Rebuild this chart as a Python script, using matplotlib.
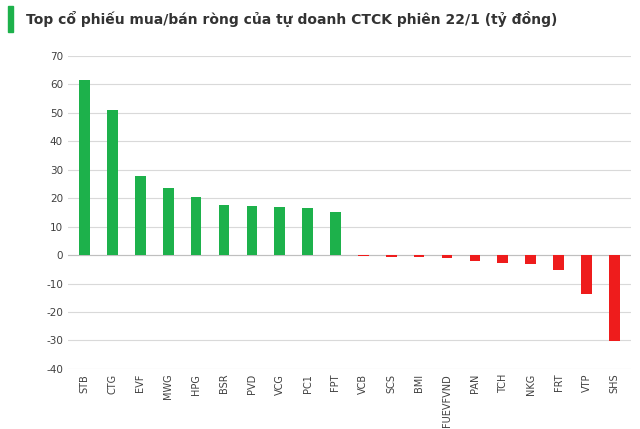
import matplotlib
matplotlib.use("Agg")
import matplotlib.pyplot as plt
from matplotlib.patches import Rectangle
plt.rcParams["axes.unicode_minus"] = False

categories = ["STB","CTG","EVF","MWG","HPG","BSR","PVD","VCG","PC1","FPT",
              "VCB","SCS","BMI","FUEVFVND","PAN","TCH","NKG","FRT","VTP","SHS"]
values = [61.5, 51.0, 27.8, 23.7, 20.5, 17.7, 17.4, 17.0, 16.7, 15.2,
          -0.5, -0.8, -0.8, -1.2, -2.2, -2.8, -3.0, -5.2, -13.8, -30.3]
yticks = list(range(-40, 80, 10))

fig = plt.figure(figsize=(6.4, 4.29), dpi=100)
ax = fig.add_axes([0.106, 0.14, 0.88, 0.73])
colors = ["#1db14b" if v >= 0 else "#ee1c1c" for v in values]
ax.bar(range(len(categories)), values, width=0.38, color=colors, zorder=3)
ax.set_ylim(-40, 70)
ax.set_yticks(yticks)
ax.set_xlim(-0.6, len(categories) - 0.4)
ax.set_xticks(range(len(categories)))
ax.set_xticklabels(categories, rotation=90, fontsize=7, color="#404040")
ax.tick_params(axis="y", labelsize=7.5, colors="#404040", length=0)
ax.tick_params(axis="x", length=0)
ax.grid(axis="y", color="#d9d9d9", linewidth=0.8, zorder=0)
ax.axhline(0, color="#bfbfbf", linewidth=0.8, zorder=2)
for s in ax.spines.values():
    s.set_visible(False)

fig.patches.append(Rectangle((0.012, 0.925), 0.009, 0.06, transform=fig.transFigure,
                             color="#1db14b"))
fig.text(0.04, 0.955, "Top cổ phiếu mua/bán ròng của tự doanh CTCK phiên 22/1 (tỷ đồng)",
         fontsize=10, fontweight="bold", color="#333333", va="center")
fig.savefig("out.png", dpi=100, facecolor="white")
